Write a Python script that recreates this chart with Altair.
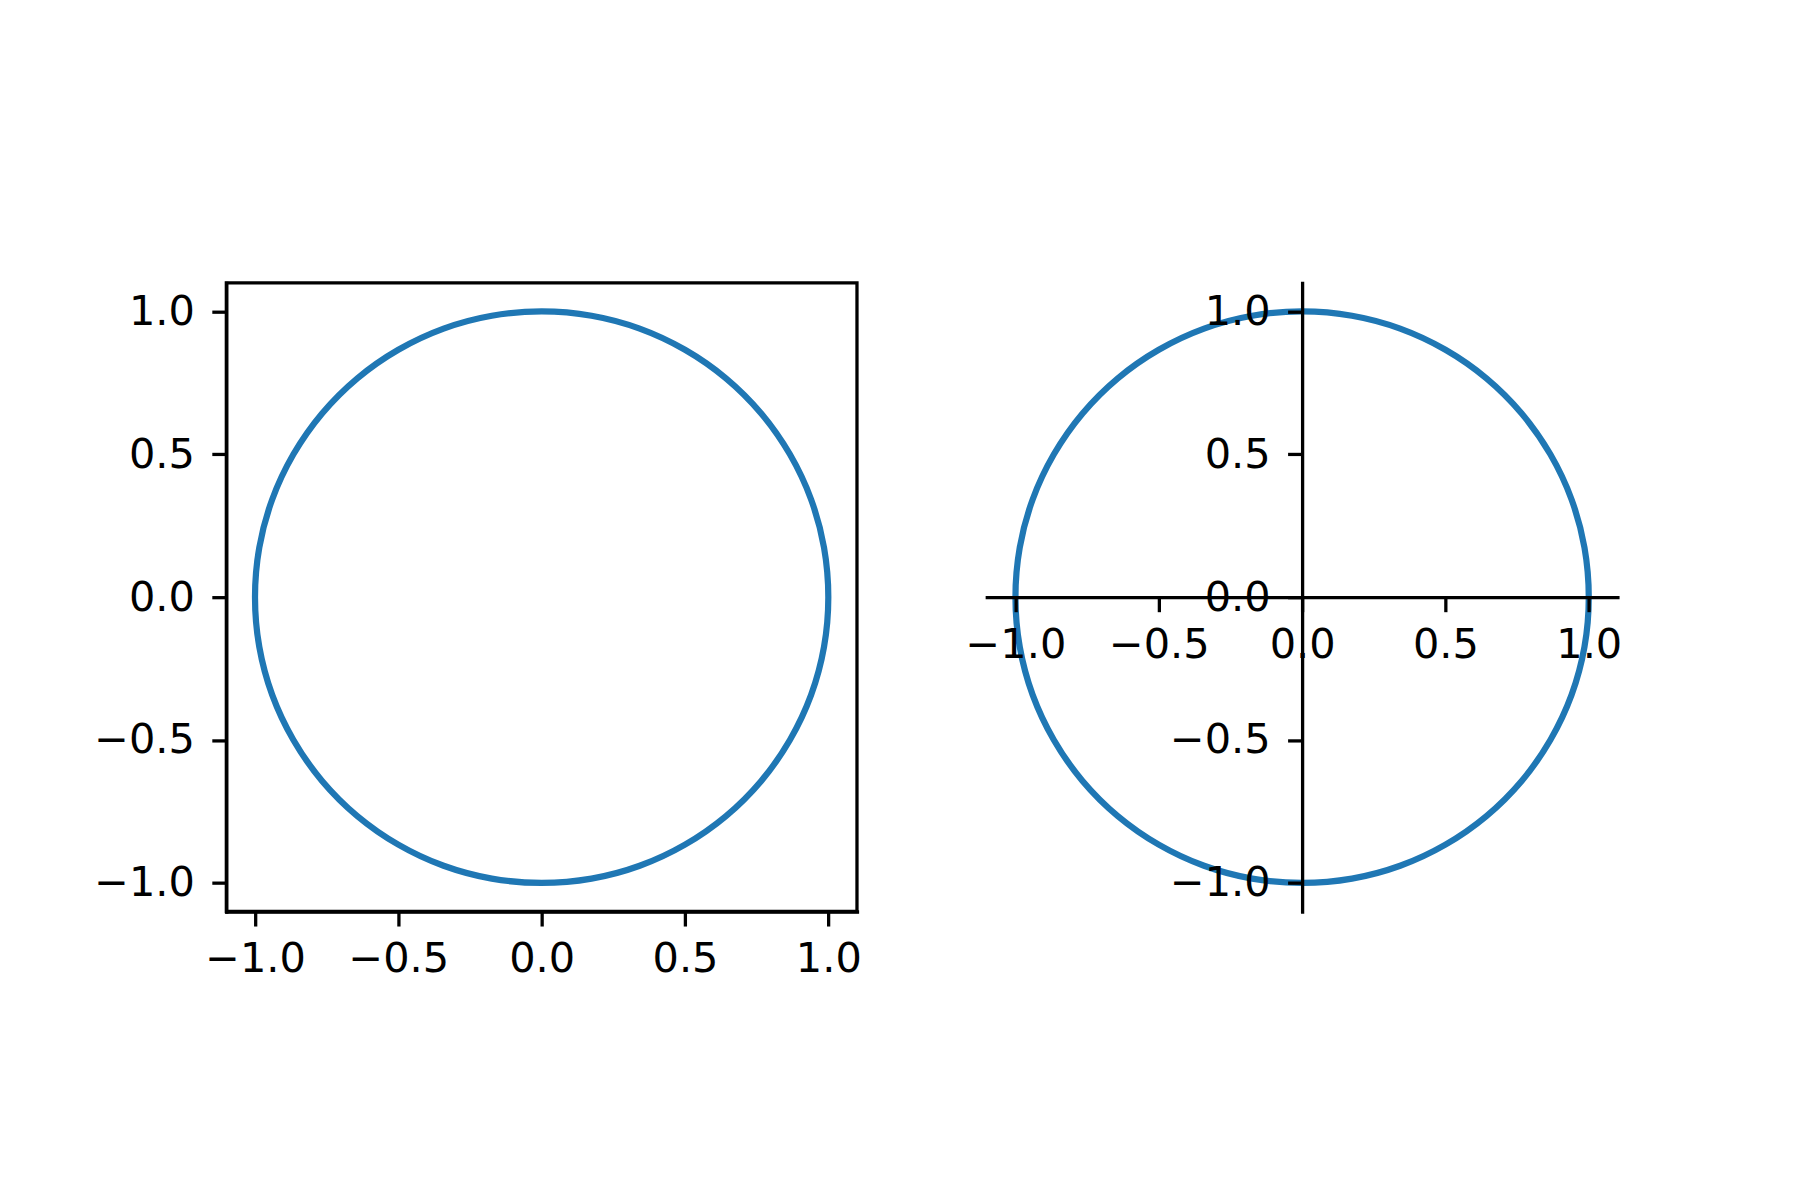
import altair as alt
import pandas as pd

# Unit circle points (10 degree steps)
xs = [1.000, 0.985, 0.940, 0.866, 0.766, 0.643, 0.500, 0.342, 0.174, 0.000,
      -0.174, -0.342, -0.500, -0.643, -0.766, -0.866, -0.940, -0.985, -1.000,
      -0.985, -0.940, -0.866, -0.766, -0.643, -0.500, -0.342, -0.174, 0.000,
      0.174, 0.342, 0.500, 0.643, 0.766, 0.866, 0.940, 0.985]
ys = [0.000, 0.174, 0.342, 0.500, 0.643, 0.766, 0.866, 0.940, 0.985, 1.000,
      0.985, 0.940, 0.866, 0.766, 0.643, 0.500, 0.342, 0.174, 0.000,
      -0.174, -0.342, -0.500, -0.643, -0.766, -0.866, -0.940, -0.985, -1.000,
      -0.985, -0.940, -0.866, -0.766, -0.643, -0.500, -0.342, -0.174]
tick_values = [-1.0, -0.5, 0.0, 0.5, 1.0]
domain = [-1.1, 1.1]

df = pd.DataFrame({"x": xs, "y": ys, "i": list(range(len(xs)))})

W, H = 634, 632
LW = 3.3
FONT = "DejaVu Sans"
FS = 41.7


def axis(pad, offset=0, z=0):
    return alt.Axis(values=tick_values, format=".1f", grid=False, title=None,
                    domainColor="black", domainWidth=LW, domainCap="square",
                    tickColor="black", tickWidth=LW, tickSize=14.6,
                    labelFont=FONT, labelFontSize=FS,
                    labelColor="black", labelPadding=pad, labelFlush=False,
                    labelOverlap=False, offset=offset, zindex=z)


def circle(xaxis, yaxis, view):
    return alt.Chart(df).mark_line(
        color="#1f77b4", strokeWidth=6.25, interpolate="cardinal-closed"
    ).encode(
        x=alt.X("x:Q", scale=alt.Scale(domain=domain, nice=False, zero=False), axis=xaxis),
        y=alt.Y("y:Q", scale=alt.Scale(domain=domain, nice=False, zero=False), axis=yaxis),
        order="i:Q",
    ).properties(width=W, height=H, view=view)


XPAD, YPAD = 13, 17.5
left = circle(axis(XPAD), axis(YPAD),
              alt.ViewBackground(stroke="black", strokeWidth=LW, fill="white"))
right = circle(axis(XPAD, offset=-H / 2, z=1), axis(YPAD, offset=-W / 2, z=1),
               alt.ViewBackground(stroke="transparent", fill="white"))

chart = alt.hconcat(left, right, spacing=130.5, bounds="flush").properties(
    padding={"left": 84.5, "top": 271, "right": 170, "bottom": 270}
).configure(background="white")

chart.save("out.html", embed_options={"renderer": "svg", "actions": False})
